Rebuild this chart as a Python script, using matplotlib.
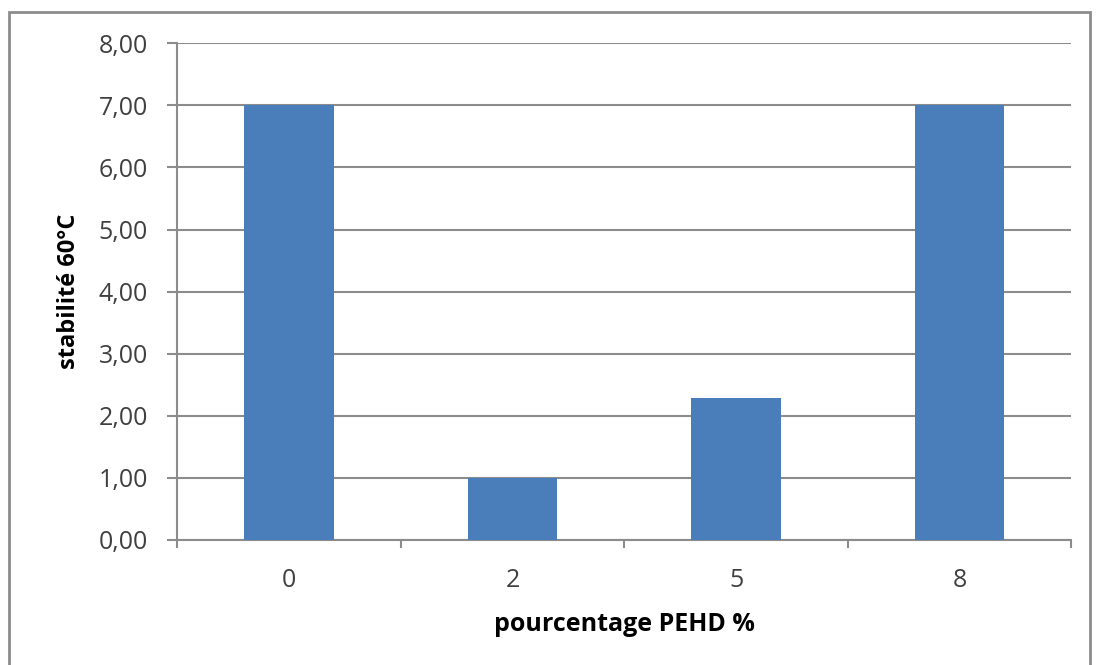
import matplotlib.pyplot as plt
import matplotlib.patches as patches
import numpy as np

# donnees
categories = ["0", "2", "5", "8"]
valeurs = [7.00, 1.00, 2.28, 7.00]
yticks = [0, 1, 2, 3, 4, 5, 6, 7, 8]

plt.rcParams['font.family'] = ['Open Sans', 'DejaVu Sans']

fig = plt.figure(figsize=(11, 6.65), dpi=100)
ax = fig.add_axes([0.161, 0.188, 0.813, 0.747])

x = np.arange(len(categories))
ax.bar(x, valeurs, width=0.4, color='#4a7ebb', zorder=3)

ax.set_xlim(-0.5, len(categories) - 0.5)
ax.set_ylim(0, 8)
ax.set_yticks(yticks)
ax.set_yticklabels([f"{v:.2f}".replace('.', ',') for v in yticks])
ax.set_xticks(x)
ax.set_xticklabels(categories)
ax.set_xticks(np.arange(-0.5, len(categories)), minor=True)

gris = '#8c8c8c'
ax.grid(axis='y', color=gris, linewidth=1.5, zorder=1)
ax.tick_params(axis='x', which='major', length=0, pad=20, labelsize=18, labelcolor='#404040')
ax.tick_params(axis='x', which='minor', length=6, width=1.5, color=gris, direction='out')
ax.tick_params(axis='y', length=7, width=1.5, color=gris, pad=14, labelsize=18, labelcolor='#404040')

for s in ['top', 'right']:
    ax.spines[s].set_visible(False)
for s in ['left', 'bottom']:
    ax.spines[s].set_color(gris)
    ax.spines[s].set_linewidth(1.5)

ax.set_xlabel("pourcentage PEHD %", fontsize=18, fontweight='bold')
ax.set_ylabel("stabilité 60°C", fontsize=17, fontweight='bold')
ax.xaxis.set_label_coords(0.5, -0.145)
ax.yaxis.set_label_coords(-0.108, 0.5)

# cadre du graphique
cadre = patches.Rectangle((9 / 1100, -0.02), 1081 / 1100, 1 - 12 / 665 + 0.02,
                          transform=fig.transFigure, fill=False,
                          edgecolor='#8c8c8c', linewidth=2)
fig.patches.append(cadre)

fig.savefig("out.png", dpi=100)
